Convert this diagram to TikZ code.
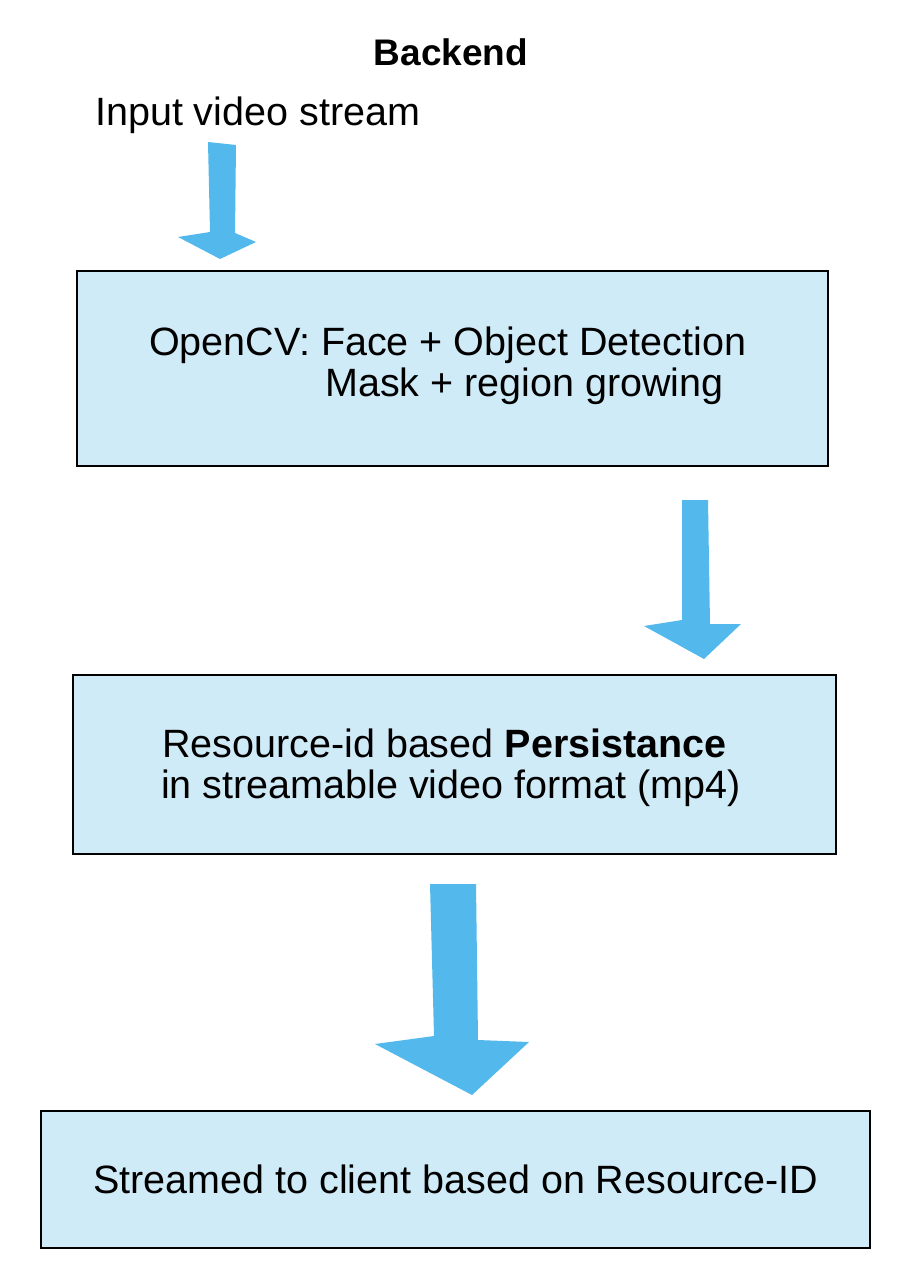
\documentclass[tikz,border=0pt]{standalone}
\usepackage{fontspec}
\setmainfont{Liberation Sans}
\usetikzlibrary{positioning,calc}
\definecolor{boxblue}{HTML}{D0EBF8}
\definecolor{arrowblue}{HTML}{53B8EC}
\tikzset{
  stage/.style={draw=black, line width=1.1pt, fill=boxblue, inner sep=0pt},
  label/.style={inner sep=0pt, font=\fontsize{39.5}{40}\selectfont},
  blockarrow/.style={fill=arrowblue, draw=none}
}
\begin{document}
\begin{tikzpicture}[x=1pt, y=-1pt]
    \useasboundingbox (0,0) rectangle (900,1273);

    % title and input
    \node[label, anchor=base, font=\fontsize{37}{38}\selectfont\bfseries] (title) at (451,66) {Backend};
    \node[label, anchor=base west] (input) at (95,126) {Input video stream};

    % stages
    \node[stage, minimum width=751pt, minimum height=195pt] (detect)  at (452.5,368.5) {};
    \node[stage, minimum width=763pt, minimum height=179pt] (persist) at (454.5,764.5) {};
    \node[stage, minimum width=829pt, minimum height=137pt] (stream)  at (455.5,1179.5) {};

    \node[label, anchor=base west] (d1) at (149,355) {OpenCV: Face + Object Detection};
    \node[label, anchor=base west] (d2) at (325,396) {Mask + region growing};
    \node[label, anchor=base west] (p1) at (162,757) {Resource-id based \textbf{Persistance}};
    \node[label, anchor=base west] (p2) at (161,798) {in streamable video format (mp4)};
    \node[label, anchor=base] (s1) at (455.5,1193) {Streamed to client based on Resource-ID};

    % arrows
    \fill[blockarrow] (208,142) -- (236,145) -- (235,233) -- (256,242) -- (220,259)
        -- (178,237) -- (210,232) -- cycle;
    \fill[blockarrow] (682,500) -- (708,500) -- (710,624) -- (741,624) -- (704,659)
        -- (644,626) -- (682,620) -- cycle;
    \fill[blockarrow] (430,884) -- (476,884) -- (478,1040) -- (529,1042) -- (472,1095)
        -- (375,1044) -- (434,1036) -- cycle;
\end{tikzpicture}
\end{document}
